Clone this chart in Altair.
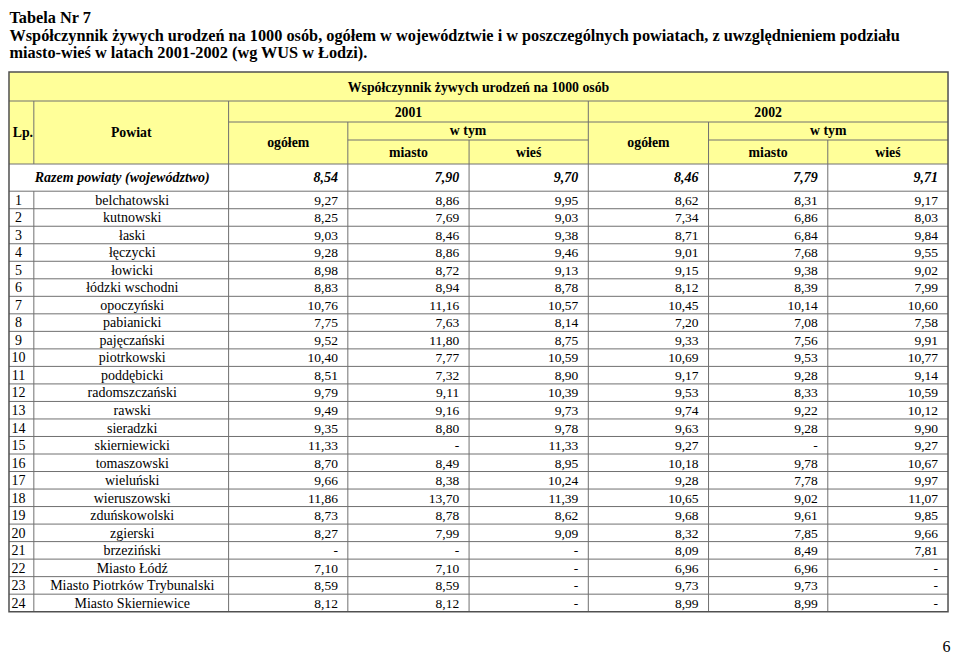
import altair as alt
import pandas as pd

# ---------------- data ----------------
title_lines = [
    "Tabela Nr 7",
    "Współczynnik żywych urodzeń na 1000 osób, ogółem w województwie i w poszczególnych powiatach, z uwzględnieniem podziału",
    "miasto-wieś w latach 2001-2002 (wg WUS w Łodzi).",
]
header_top = "Współczynnik żywych urodzeń na 1000 osób"
years = ["2001", "2002"]
sub_total = "ogółem"
sub_group = "w tym"
sub_parts = ["miasto", "wieś"]
col_lp = "Lp."
col_powiat = "Powiat"
razem_label = "Razem powiaty (województwo)"
razem_values = [8.54, 7.90, 9.70, 8.46, 7.79, 9.71]

powiaty = [
    "belchatowski", "kutnowski", "łaski", "łęczycki", "łowicki", "łódzki wschodni",
    "opoczyński", "pabianicki", "pajęczański", "piotrkowski", "poddębicki",
    "radomszczański", "rawski", "sieradzki", "skierniewicki", "tomaszowski",
    "wieluński", "wieruszowski", "zduńskowolski", "zgierski", "brzeziński",
    "Miasto Łódź", "Miasto Piotrków Trybunalski", "Miasto Skierniewice",
]
ogolem_2001 = [9.27, 8.25, 9.03, 9.28, 8.98, 8.83, 10.76, 7.75, 9.52, 10.40, 8.51, 9.79,
               9.49, 9.35, 11.33, 8.70, 9.66, 11.86, 8.73, 8.27, None, 7.10, 8.59, 8.12]
miasto_2001 = [8.86, 7.69, 8.46, 8.86, 8.72, 8.94, 11.16, 7.63, 11.80, 7.77, 7.32, 9.11,
               9.16, 8.80, None, 8.49, 8.38, 13.70, 8.78, 7.99, None, 7.10, 8.59, 8.12]
wies_2001 = [9.95, 9.03, 9.38, 9.46, 9.13, 8.78, 10.57, 8.14, 8.75, 10.59, 8.90, 10.39,
             9.73, 9.78, 11.33, 8.95, 10.24, 11.39, 8.62, 9.09, None, None, None, None]
ogolem_2002 = [8.62, 7.34, 8.71, 9.01, 9.15, 8.12, 10.45, 7.20, 9.33, 10.69, 9.17, 9.53,
               9.74, 9.63, 9.27, 10.18, 9.28, 10.65, 9.68, 8.32, 8.09, 6.96, 9.73, 8.99]
miasto_2002 = [8.31, 6.86, 6.84, 7.68, 9.38, 8.39, 10.14, 7.08, 7.56, 9.53, 9.28, 8.33,
               9.22, 9.28, None, 9.78, 7.78, 9.02, 9.61, 7.85, 8.49, 6.96, 9.73, 8.99]
wies_2002 = [9.17, 8.03, 9.84, 9.55, 9.02, 7.99, 10.60, 7.58, 9.91, 10.77, 9.14, 10.59,
             10.12, 9.90, 9.27, 10.67, 9.97, 11.07, 9.85, 9.66, 7.81, None, None, None]
page_number = "6"

series = [ogolem_2001, miasto_2001, wies_2001, ogolem_2002, miasto_2002, wies_2002]

# ---------------- layout ----------------
W, H = 943, 647
xs = alt.Scale(domain=[2, 951], nice=False, zero=False)
ys = alt.Scale(domain=[8, 8 + H], nice=False, zero=False, reverse=True)

col_edges = [3, 28, 224, 344, 466, 586, 707, 827, 948]
hdr_edges = [72, 101, 122, 140, 164]
razem_bottom = 191.2
row_h = 17.52
n = len(powiaty)
row_edges = [razem_bottom + i * row_h for i in range(n + 1)]
table_bottom = row_edges[-1]
val_right = [c - 10 for c in col_edges[3:]]

FONT = "Liberation Serif"
LINE = "#707070"


def fmt(v):
    return "-" if v is None else f"{v:.2f}".replace(".", ",")


def X(f):
    return alt.X(f"{f}:Q", scale=xs, axis=None)


def Y(f):
    return alt.Y(f"{f}:Q", scale=ys, axis=None)


# header background
bg = pd.DataFrame([{"x": col_edges[0], "x2": col_edges[-1], "y": hdr_edges[0], "y2": hdr_edges[-1]}])
bg_layer = alt.Chart(bg).mark_rect(color="#FFFF99").encode(
    x=X("x"), x2="x2", y=Y("y"), y2="y2")

# horizontal lines
L, R = col_edges[0], col_edges[-1]
hl = [
    (L, R, hdr_edges[1]),
    (col_edges[2], R, hdr_edges[2]),
    (col_edges[3], col_edges[5], hdr_edges[3]),
    (col_edges[6], R, hdr_edges[3]),
    (L, R, hdr_edges[4]),
]
for y in row_edges[:-1]:
    hl.append((L, R, y))
hdf = pd.DataFrame(hl, columns=["x", "x2", "y"])
h_layer = alt.Chart(hdf).mark_rule(color=LINE, strokeWidth=1).encode(
    x=X("x"), x2="x2", y=Y("y"))

# vertical lines
vl = [
    (col_edges[1], hdr_edges[1], hdr_edges[4]),
    (col_edges[1], razem_bottom, table_bottom),
    (col_edges[2], hdr_edges[1], table_bottom),
    (col_edges[3], hdr_edges[2], table_bottom),
    (col_edges[4], hdr_edges[3], table_bottom),
    (col_edges[5], hdr_edges[1], table_bottom),
    (col_edges[6], hdr_edges[2], table_bottom),
    (col_edges[7], hdr_edges[3], table_bottom),
]
vdf = pd.DataFrame(vl, columns=["x", "y", "y2"])
v_layer = alt.Chart(vdf).mark_rule(color=LINE, strokeWidth=1).encode(
    x=X("x"), y=Y("y"), y2="y2")

# outer border
ob = pd.DataFrame([{"x": L, "x2": R, "y": hdr_edges[0], "y2": table_bottom}])
o_layer = alt.Chart(ob).mark_rect(fill=None, stroke="#505050", strokeWidth=1.5).encode(
    x=X("x"), x2="x2", y=Y("y"), y2="y2")

# title
tdf = pd.DataFrame({"x": [3.5, 3.5, 3.5], "y": [23, 40.5, 58], "t": title_lines})
t_layer = alt.Chart(tdf).mark_text(
    font=FONT, fontSize=16.3, fontWeight="bold", align="left", baseline="alphabetic",
    color="black").encode(x=X("x"), y=Y("y"), text="t:N")

# header texts
hd = [
    ((col_edges[0] + col_edges[8]) / 2, 92, header_top),
    ((col_edges[2] + col_edges[5]) / 2, 117, years[0]),
    ((col_edges[5] + col_edges[8]) / 2, 117, years[1]),
    (17, 137, col_lp),
    ((col_edges[1] + col_edges[2]) / 2, 137, col_powiat),
    ((col_edges[2] + col_edges[3]) / 2, 147, sub_total),
    ((col_edges[5] + col_edges[6]) / 2, 147, sub_total),
    ((col_edges[3] + col_edges[5]) / 2, 135, sub_group),
    ((col_edges[6] + col_edges[8]) / 2, 135, sub_group),
    ((col_edges[3] + col_edges[4]) / 2, 157, sub_parts[0]),
    ((col_edges[4] + col_edges[5]) / 2, 157, sub_parts[1]),
    ((col_edges[6] + col_edges[7]) / 2, 157, sub_parts[0]),
    ((col_edges[7] + col_edges[8]) / 2, 157, sub_parts[1]),
]
hddf = pd.DataFrame(hd, columns=["x", "y", "t"])
hd_layer = alt.Chart(hddf).mark_text(
    font=FONT, fontSize=13.8, fontWeight="bold", align="center", baseline="alphabetic",
    color="black").encode(x=X("x"), y=Y("y"), text="t:N")

# razem row
rz_y = 182
rl = pd.DataFrame([{"x": 117, "y": rz_y, "t": razem_label}])
rl_layer = alt.Chart(rl).mark_text(
    font=FONT, fontSize=14, fontWeight="bold", fontStyle="italic", align="center",
    baseline="alphabetic", color="black").encode(x=X("x"), y=Y("y"), text="t:N")
rv = pd.DataFrame({"x": val_right, "y": [rz_y] * 6, "t": [fmt(v) for v in razem_values]})
rv_layer = alt.Chart(rv).mark_text(
    font=FONT, fontSize=14, fontWeight="bold", fontStyle="italic", align="right",
    baseline="alphabetic", color="black").encode(x=X("x"), y=Y("y"), text="t:N")

# data rows
centers = [(row_edges[i] + row_edges[i + 1]) / 2 + 4.8 for i in range(n)]
lp_df = pd.DataFrame({"x": [12.5] * n, "y": centers, "t": [str(i + 1) for i in range(n)]})
pw_df = pd.DataFrame({"x": [127] * n, "y": centers, "t": powiaty})
cells = []
for j, s in enumerate(series):
    for i, v in enumerate(s):
        cells.append({"x": val_right[j], "y": centers[i], "t": fmt(v)})
cdf = pd.DataFrame(cells)

lp_layer = alt.Chart(lp_df).mark_text(
    font=FONT, fontSize=14, align="center", baseline="alphabetic", color="black").encode(
    x=X("x"), y=Y("y"), text="t:N")
pw_layer = alt.Chart(pw_df).mark_text(
    font=FONT, fontSize=14, align="center", baseline="alphabetic", color="black").encode(
    x=X("x"), y=Y("y"), text="t:N")
c_layer = alt.Chart(cdf).mark_text(
    font=FONT, fontSize=13.5, align="right", baseline="alphabetic", color="black").encode(
    x=X("x"), y=Y("y"), text="t:N")

pn = pd.DataFrame([{"x": 950.5, "y": 652, "t": page_number}])
pn_layer = alt.Chart(pn).mark_text(
    font=FONT, fontSize=16, align="right", baseline="alphabetic", color="black").encode(
    x=X("x"), y=Y("y"), text="t:N")

chart = alt.layer(
    bg_layer, h_layer, v_layer, o_layer, t_layer, hd_layer, rl_layer, rv_layer,
    lp_layer, pw_layer, c_layer, pn_layer,
).properties(
    width=W, height=H, padding=0, autosize=alt.AutoSizeParams(type="none"),
    background="white",
).configure_view(stroke=None)

chart.save("out.html", embed_options={"renderer": "svg", "actions": False})
